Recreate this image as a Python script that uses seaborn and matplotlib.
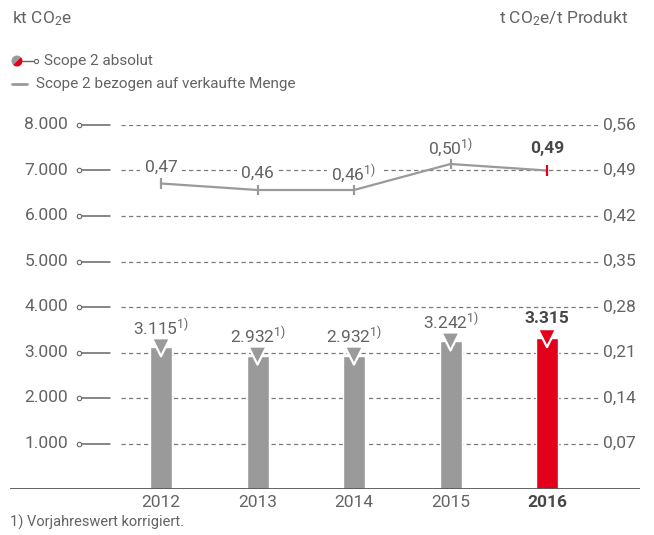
import numpy as np
import pandas as pd
import seaborn as sns
import matplotlib.pyplot as plt
from matplotlib.patches import Wedge
from matplotlib.lines import Line2D

# --- data -------------------------------------------------------------
years = ["2012", "2013", "2014", "2015", "2016"]
scope2_abs = [3115, 2932, 2932, 3242, 3315]            # kt CO2e
scope2_abs_corrected = [True, True, True, True, False]
scope2_rel = [0.47, 0.46, 0.46, 0.50, 0.49]            # t CO2e / t Produkt
scope2_rel_corrected = [False, False, True, True, False]
left_ticks = [1000, 2000, 3000, 4000, 5000, 6000, 7000, 8000]
right_ticks = [0.07, 0.14, 0.21, 0.28, 0.35, 0.42, 0.49, 0.56]
highlight = "2016"

GREY = "#9a9a9a"
RED = "#e2001a"
TXT = "#636363"
TXT_DARK = "#474747"
FS = 12.5

sns.set_theme(style="white")
plt.rcParams["font.family"] = ["Roboto", "DejaVu Sans"]
plt.rcParams["mathtext.fontset"] = "custom"
plt.rcParams["mathtext.rm"] = "Roboto"
plt.rcParams["mathtext.default"] = "regular"

W, H = 654, 535
fig = plt.figure(figsize=(W / 100, H / 100), dpi=100)

# axes placed in pixel units: baseline at y=489, 8.000 at y=125
x0, x1, y0, y1 = 10, 640, 489, 125
ax = fig.add_axes([x0 / W, 1 - y0 / H, (x1 - x0) / W, (y0 - y1) / H])
step, first = 96.5, 161

def fx(px):
    return (px - x0) / (x1 - x0)

xpos = np.arange(len(years))
colors = [RED if y == highlight else GREY for y in years]

df = pd.DataFrame({"Jahr": years, "kt": scope2_abs})
sns.barplot(data=df, x="Jahr", y="kt", hue="Jahr", palette=colors,
            width=22 / step, saturation=1, legend=False, ax=ax, zorder=2)
ax.set_xlim((x0 - first) / step, (x1 - first) / step)
ax.set_ylim(0, left_ticks[-1])

# arrow heads on top of the bars
ax.scatter(xpos, scope2_abs, marker="v", s=13 ** 2, c=colors,
           edgecolors="white", linewidths=1.6, zorder=3)

# dashed guides, axis decorations and tick labels
ytr = ax.get_yaxis_transform()
for v, r in zip(left_ticks, right_ticks):
    ax.axhline(v, xmin=fx(121), xmax=fx(598), color="#7a7a7a", lw=0.9,
               ls=(0, (3.4, 2.6)), zorder=0)
    ax.plot([fx(82), fx(110)], [v, v], transform=ytr, color="#666666",
            lw=1.1, clip_on=False)
    ax.plot(fx(79), v, transform=ytr, marker="o", ms=3.2, mfc="white",
            mec="#666666", mew=0.8, clip_on=False)
    ax.text(fx(68), v, f"{v:,}".replace(",", "."), transform=ytr,
            ha="right", va="center", fontsize=FS, color=TXT)
    ax.text(fx(603), v, f"{r:.2f}".replace(".", ","), transform=ytr,
            ha="left", va="center", fontsize=FS, color=TXT)

ax.axhline(0, color="#555555", lw=2, zorder=4)

# bar value labels
for i, (yr, v, c) in enumerate(zip(years, scope2_abs, scope2_abs_corrected)):
    txt = f"{v:,}".replace(",", ".")
    hl = yr == highlight
    ax.annotate(txt + ("$^{1)}$" if c else ""), (i, v), xytext=(0, 14),
                textcoords="offset points", ha="center", va="center",
                fontsize=FS, fontweight="bold" if hl else "normal",
                color=TXT_DARK if hl else TXT, zorder=5)

# relative values on the secondary axis
ax2 = ax.twinx()
ax2.set_ylim(0, right_ticks[-1])
for i, (yr, v, c) in enumerate(zip(years, scope2_rel, scope2_rel_corrected)):
    txt = f"{v:.2f}".replace(".", ",")
    hl = yr == highlight
    ax2.annotate(txt + ("$^{1)}$" if c else ""), (i, v),
                 xytext=(0, 16 if hl else 12), textcoords="offset points",
                 ha="center", va="center", fontsize=FS,
                 fontweight="bold" if hl else "normal",
                 color=TXT_DARK if hl else TXT, zorder=3,
                 bbox=dict(fc="white", ec="none", pad=3))
sns.lineplot(x=xpos, y=scope2_rel, ax=ax2, color=GREY, lw=1.6, zorder=6)
ax2.scatter(xpos, scope2_rel, marker="|", s=7.5 ** 2, c=colors,
            linewidths=1.6, zorder=7)

for a in (ax, ax2):
    for s in a.spines.values():
        s.set_visible(False)
    a.set_yticks([])
    a.set_ylabel("")
ax.set_xlabel("")
ax.set_xticks(xpos, years)
ax.tick_params(axis="x", length=0, pad=4, labelsize=FS, labelcolor=TXT)
for lab in ax.get_xticklabels():
    if lab.get_text() == highlight:
        lab.set_fontweight("bold")
        lab.set_color(TXT_DARK)

# unit captions
fig.text(12 / W, 1 - 19 / H, "kt CO$_2$e", fontsize=12.5, color=TXT,
         ha="left", va="center")
fig.text(628 / W, 1 - 19 / H, "t CO$_2$e/t Produkt", fontsize=12.5, color=TXT,
         ha="right", va="center")

# legend
inch = fig.dpi_scale_trans
def P(px, py):
    return (px / 100, (H - py) / 100)

ly1, ly2 = 61, 84
fig.add_artist(Wedge(P(17, ly1), 0.055, 45, 225, fc=GREY, ec="none", transform=inch))
fig.add_artist(Wedge(P(17, ly1), 0.055, 225, 405, fc=RED, ec="none", transform=inch))
fig.add_artist(Line2D([P(22, 0)[0], P(34, 0)[0]], [P(0, ly1)[1]] * 2,
                      color="#666666", lw=1, transform=inch))
fig.add_artist(Line2D([P(35.5, 0)[0]], [P(0, ly1)[1]], marker="o", ms=3,
                      mfc="white", mec="#666666", mew=0.8, transform=inch))
fig.text(44 / W, 1 - ly1 / H, "Scope 2 absolut", fontsize=11, color=TXT,
         va="center")
fig.add_artist(Line2D([P(12, 0)[0], P(27, 0)[0]], [P(0, ly2)[1]] * 2,
                      color=GREY, lw=2, transform=inch))
fig.text(36 / W, 1 - ly2 / H, "Scope 2 bezogen auf verkaufte Menge",
         fontsize=11, color=TXT, va="center")

# footnote
fig.text(10 / W, 1 - 522 / H, "1) Vorjahreswert korrigiert.", fontsize=10.5,
         color=TXT, va="center")

fig.savefig("out.png", dpi=100)
